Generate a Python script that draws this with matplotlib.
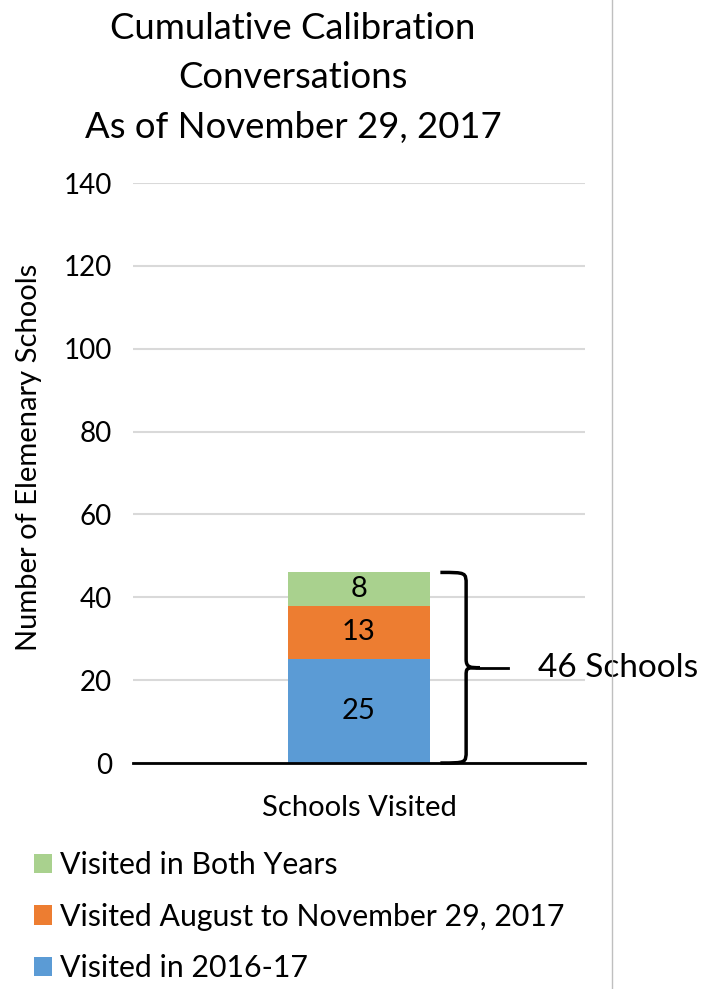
import matplotlib
matplotlib.use("Agg")
import matplotlib.pyplot as plt
from matplotlib.path import Path
from matplotlib.patches import PathPatch
from matplotlib.lines import Line2D
import matplotlib.transforms as mtransforms

plt.rcParams['font.family'] = ['Lato', 'DejaVu Sans']

category = ["Schools Visited"]
series_names = ["Visited in 2016-17", "Visited August to November 29, 2017", "Visited in Both Years"]
series_values = [[25], [13], [8]]
series_colors = ["#5B9BD5", "#ED7D31", "#A9D18E"]
total_label = "46 Schools"
y_ticks = [0, 20, 40, 60, 80, 100, 120, 140]

W, H = 704, 989
fig = plt.figure(figsize=(W / 100, H / 100), dpi=100)
ax = fig.add_axes([133 / W, 1 - 763 / H, 452 / W, 580 / H])

bottom = 0
for name, vals, col in zip(series_names, series_values, series_colors):
    ax.bar([0], vals, bottom=[bottom], width=0.312, color=col, label=name, zorder=3)
    ax.text(0, bottom + vals[0] / 2, str(vals[0]), ha="center", va="center",
            fontsize=21, color="black", zorder=4)
    bottom += vals[0]
total = bottom

ax.set_xlim(-0.5, 0.5)
ax.set_ylim(0, 140)
ax.set_yticks(y_ticks)
ax.set_xticks([0])
ax.set_xticklabels(category)
ax.tick_params(axis="y", length=0, labelsize=20, pad=15)
ax.tick_params(axis="x", length=0, labelsize=21, pad=23)
ax.yaxis.grid(True, color="#D9D9D9", linewidth=1.5, zorder=0)
ax.set_axisbelow(True)
for s in ["top", "right", "left"]:
    ax.spines[s].set_visible(False)
ax.spines["bottom"].set_linewidth(2)
ax.spines["bottom"].set_zorder(5)

fig.text(29 / W, 1 - 457 / H, "Number of Elemenary Schools", rotation=90,
         ha="center", va="center", fontsize=21)

fig.text(293 / W, 1 - 78 / H,
         "Cumulative Calibration\nConversations\nAs of November 29, 2017",
         ha="center", va="center", fontsize=26.3, linespacing=1.6)

# curly brace spanning the whole stack
trans = mtransforms.blended_transform_factory(ax.transAxes, ax.transData)
x0, xs, xt = 0.68, 0.737, 0.83
mid = total / 2
verts = [
    (x0, total), (xs, total), (xs, total), (xs, total - 3),
    (xs, mid + 2),
    (xs, mid), (xs + 0.01, mid), (xs + 0.03, mid),
    (xs, mid), (xs, mid), (xs, mid - 2),
    (xs, 3),
    (xs, 0), (xs, 0), (x0, 0),
]
codes = [Path.MOVETO, Path.CURVE4, Path.CURVE4, Path.CURVE4,
         Path.LINETO,
         Path.CURVE4, Path.CURVE4, Path.CURVE4,
         Path.CURVE4, Path.CURVE4, Path.CURVE4,
         Path.LINETO,
         Path.CURVE4, Path.CURVE4, Path.CURVE4]
brace = PathPatch(Path(verts, codes), transform=trans, fill=False,
                  edgecolor="black", linewidth=2.5, clip_on=False, zorder=6)
ax.add_patch(brace)
ax.add_line(Line2D([xs + 0.03, xt], [mid, mid], transform=trans, color="black",
                   linewidth=2, clip_on=False, zorder=6))
ax.text(0.896, mid, total_label, transform=trans, fontsize=24, va="center",
        ha="left", clip_on=False)

# legend below the plot, top entry first
handles, labels = ax.get_legend_handles_labels()
fig.legend(handles[::-1], labels[::-1], loc="upper left",
           bbox_to_anchor=(34 / W, 1 - 851 / H), frameon=False, fontsize=21.8,
           handlelength=0.6, handleheight=0.6, handletextpad=0.27,
           labelspacing=0.78, borderaxespad=0, borderpad=0)

# separator line on the right
fig.add_artist(Line2D([611.5 / W, 611.5 / W], [0, 1], transform=fig.transFigure,
                      color="#BFBFBF", linewidth=1))

fig.savefig("out.png", dpi=100)
